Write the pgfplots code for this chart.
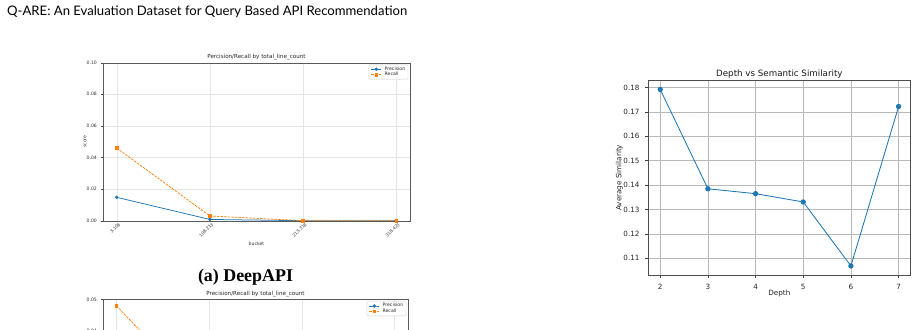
\documentclass[border=0pt]{standalone}
\usepackage{pgfplots}
\pgfplotsset{compat=1.18}
\usepackage{fontspec}
\setmainfont{DejaVu Sans}
\newfontfamily\headfont{Lato}
\newfontfamily\capfont{Liberation Serif}
\definecolor{mplblue}{HTML}{1F77B4}
\definecolor{mplorange}{HTML}{FF7F0E}
\pgfplotsset{
  every axis title shift=0pt,
  smallchart/.style={
    scale only axis,
    xmin=-0.15, xmax=3.15,
    xtick={0,1,2,3},
    xtick pos=bottom, ytick pos=left,
    tick align=outside,
    major tick length=1.6pt,
    tick style={black!70, line width=0.35pt},
    axis line style={black!65, line width=0.4pt},
    grid=major,
    major grid style={black!10, line width=0.35pt},
    /pgf/number format/assume math mode=true,
    /pgf/number format/fixed,
    /pgf/number format/fixed zerofill,
    /pgf/number format/precision=2,
    scaled y ticks=false,
    tick label style={font=\fontsize{4.6}{5.5}\selectfont, text=black!80},
    yticklabel style={inner sep=0pt, xshift=-4pt},
    xticklabel style={rotate=45, anchor=east, inner sep=0pt, yshift=-3.2pt, xshift=1pt, font=\fontsize{4.3}{5}\selectfont},
    title style={font=\fontsize{5.6}{6.5}\selectfont, text=black!85, at={(axis description cs:0.5,1)}, anchor=base, inner sep=0pt, yshift=3.8pt},
    label style={font=\fontsize{4.6}{5.5}\selectfont, text=black!80},
    legend style={at={(axis description cs:1,1)}, xshift=-2pt, yshift=-2pt, anchor=north east,
      font=\fontsize{4.6}{5.5}\selectfont, draw=black!20, rounded corners=1pt,
      inner xsep=2pt, inner ysep=1pt, row sep=-1pt, nodes={inner sep=0.8pt}, text=black!85,
      /tikz/every odd column/.append style={column sep=2.2pt}},
    legend cell align=left,
    legend image code/.code={\draw[mark repeat=2,mark phase=2,##1] plot coordinates {(0pt,0pt) (5pt,0pt) (10pt,0pt)};},
  }
}
\begin{document}
\begin{tikzpicture}
\useasboundingbox (0pt,0pt) rectangle (917pt,-329pt);
\fill[white] (0pt,0pt) rectangle (917pt,-329pt);
\clip (0pt,0pt) rectangle (917pt,-329pt);

\node[anchor=base west, inner sep=0pt] at (7pt,-15.5pt)
  {\resizebox{400pt}{!}{\headfont Q-ARE: An Evaluation Dataset for Query Based API Recommendation}};

\node[anchor=base, inner sep=0pt] at (245.5pt,-281pt)
  {\resizebox{95pt}{!}{\capfont\bfseries (a) DeepAPI}};

% ---------------- chart (a) top left ----------------
\begin{axis}[
  smallchart,
  at={(102.7pt,-220.7pt)}, anchor=south west,
  width=307.5pt, height=158pt,
  ymin=0, ymax=0.10,
  ytick={0,0.02,0.04,0.06,0.08,0.10},
  xticklabels={3-108,108-213,213-318,318-423},
  title={Percision/Recall by total\_line\_count},
  xlabel={bucket}, ylabel={score},
  xlabel style={at={(axis description cs:0.5,-0.1475)}, anchor=center, inner sep=0pt},
  ylabel style={at={(axis description cs:-0.057,0.5)}, anchor=center, inner sep=0pt},
]
\addplot[mplblue, line width=0.75pt, mark=*, mark size=1.3pt, mark options={solid}]
  coordinates {(0,0.0148) (1,0.0008) (2,0.0) (3,0.0)};
\addlegendentry{Precision}
\addplot[mplorange, line width=0.75pt, dash pattern=on 2.5pt off 1.1pt, mark=square*, mark size=1.25pt, mark options={solid}]
  coordinates {(0,0.0460) (1,0.0030) (2,0.0) (3,0.0)};
\addlegendentry{Recall}
\end{axis}

% ---------------- chart (b) bottom left, cut off by the page edge ----------------
\begin{axis}[
  smallchart,
  at={(102.7pt,-299.5pt)}, anchor=north west,
  width=305.5pt, height=158pt,
  ymin=0, ymax=0.05,
  ytick={0.04,0.05},
  xticklabels={},
  title={Precision/Recall by total\_line\_count},
  title style={yshift=0.6pt},
]
\addplot[mplblue, line width=0.75pt, mark=*, mark size=1.3pt, mark options={solid}]
  coordinates {(0,0.016) (1,0.004) (2,0.001) (3,0.0)};
\addlegendentry{Precision}
\addplot[mplorange, line width=0.75pt, dash pattern=on 2.5pt off 1.1pt, mark=square*, mark size=1.25pt, mark options={solid}]
  coordinates {(0,0.0480) (1,0.0170) (2,0.002) (3,0.0)};
\addlegendentry{Recall}
\end{axis}

% ---------------- right chart ----------------
\begin{axis}[
  scale only axis,
  at={(648.3pt,-274.8pt)}, anchor=south west,
  width=262.2pt, height=194.1pt,
  xmin=1.75, xmax=7.25,
  ymin=0.10327, ymax=0.18277,
  xtick={2,3,4,5,6,7},
  xticklabels={2,3,4,5,6,7},
  ytick={0.11,0.12,0.13,0.14,0.15,0.16,0.17,0.18},
  xtick pos=bottom, ytick pos=left,
  tick align=outside,
  major tick length=3pt,
  tick style={black!75, line width=0.45pt},
  axis line style={black!70, line width=0.5pt},
  grid=major,
  major grid style={black!28, line width=0.5pt},
  /pgf/number format/assume math mode=true,
  /pgf/number format/fixed,
  /pgf/number format/fixed zerofill,
  /pgf/number format/precision=2,
  scaled y ticks=false,
  tick label style={font=\fontsize{7.2}{8.5}\selectfont, text=black!85},
  yticklabel style={inner sep=0pt, xshift=-5.6pt},
  xticklabel style={inner sep=0pt, yshift=-6pt},
  title={Depth vs Semantic Similarity},
  title style={font=\fontsize{8.7}{10}\selectfont, text=black!90, at={(axis description cs:0.5,1)}, anchor=base, inner sep=0pt, yshift=4.3pt},
  xlabel={Depth}, ylabel={Average Similarity},
  label style={font=\fontsize{7.2}{8.5}\selectfont, text=black!85},
  xlabel style={at={(axis description cs:0.5,-0.0955)}, anchor=center, inner sep=0pt},
  ylabel style={at={(axis description cs:-0.1105,0.5)}, anchor=center, inner sep=0pt},
]
\addplot[mplblue, line width=0.85pt, mark=*, mark size=2.2pt]
  coordinates {(2,0.1792) (3,0.1385) (4,0.1365) (5,0.1331) (6,0.1069) (7,0.1722)};
\end{axis}
\end{tikzpicture}
\end{document}
